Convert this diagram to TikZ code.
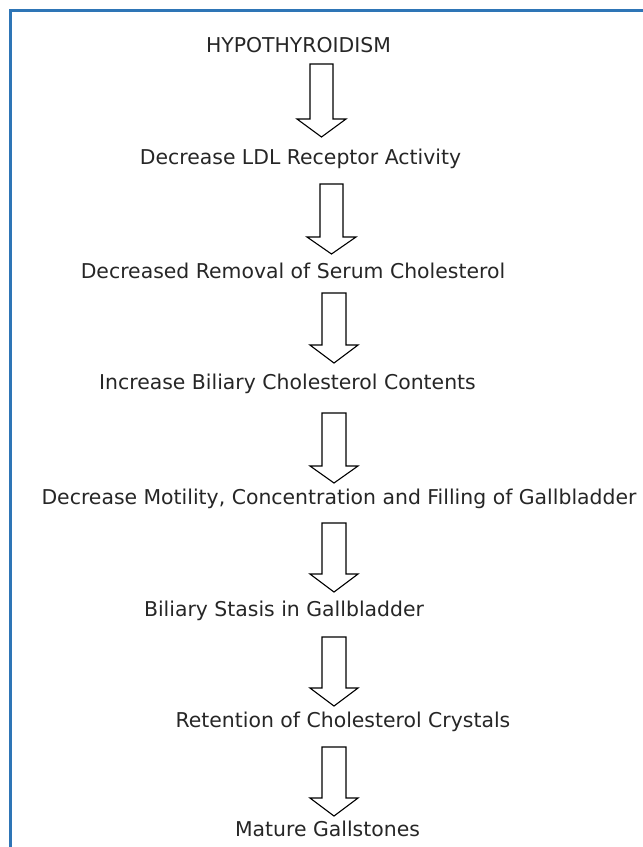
\documentclass[tikz,border=0pt]{standalone}
\usepackage{fontspec}
\setmainfont{DejaVu Sans}
\usetikzlibrary{calc}
\definecolor{frameblue}{HTML}{2E75B6}
\tikzset{
  lbl/.style={inner sep=0pt, anchor=base, font=\fontsize{20.4}{24}\selectfont, text=black!85},
  barrow/.style={draw=black, line width=1.1pt, fill=white, line join=miter},
  frame/.style={draw=frameblue, line width=2.6pt}
}
% #1 top coordinate, #2 tip coordinate, #3 shaft half width, #4 head half width, #5 head length
\newcommand\blockarr[5]{%
  \draw[barrow] let \p1=(#1), \p2=(#2) in
    (\x1-#3pt,\y1) -- (\x1+#3pt,\y1) -- (\x1+#3pt,\y2+#5pt) -- (\x1+#4pt,\y2+#5pt)
    -- (\x2,\y2) -- (\x1-#4pt,\y2+#5pt) -- (\x1-#3pt,\y2+#5pt) -- cycle;}
\begin{document}
\begin{tikzpicture}[x=1pt,y=-1pt]
\useasboundingbox (0,0) rectangle (643,847);
\begin{scope}
\clip (0,0) rectangle (643,847);
\draw[frame] (10.5,10.5) rectangle (680,890);
\end{scope}
\node[lbl] (t1) at (298.5,52) {HYPOTHYROIDISM};
\node[lbl] (t2) at (300.5,164) {Decrease LDL Receptor Activity};
\node[lbl] (t3) at (293,278) {Decreased Removal of Serum Cholesterol};
\node[lbl] (t4) at (287.5,389) {Increase Biliary Cholesterol Contents};
\node[lbl] (t5) at (339,504) {Decrease Motility, Concentration and Filling of Gallbladder};
\node[lbl] (t6) at (284,616) {Biliary Stasis in Gallbladder};
\node[lbl] (t7) at (343,727) {Retention of Cholesterol Crystals};
\node[lbl] (t8) at (327.5,836) {Mature Gallstones};
\coordinate (a1s) at (321.5,64);  \coordinate (a1e) at (321.5,137);
\coordinate (a2s) at (331.5,184); \coordinate (a2e) at (331.5,254);
\coordinate (a3s) at (334,293);   \coordinate (a3e) at (334,363);
\coordinate (a4s) at (334,413);   \coordinate (a4e) at (334,483);
\coordinate (a5s) at (334,523);   \coordinate (a5e) at (334,592);
\coordinate (a6s) at (334,637);   \coordinate (a6e) at (334,706);
\coordinate (a7s) at (334,747);   \coordinate (a7e) at (334,816);
\blockarr{a1s}{a1e}{11.5}{24.5}{18}
\blockarr{a2s}{a2e}{11.5}{24.5}{17}
\blockarr{a3s}{a3e}{12}{24}{18}
\blockarr{a4s}{a4e}{12}{24}{17}
\blockarr{a5s}{a5e}{12}{24}{18}
\blockarr{a6s}{a6e}{12}{24}{18}
\blockarr{a7s}{a7e}{12}{24}{18}
\end{tikzpicture}
\end{document}
